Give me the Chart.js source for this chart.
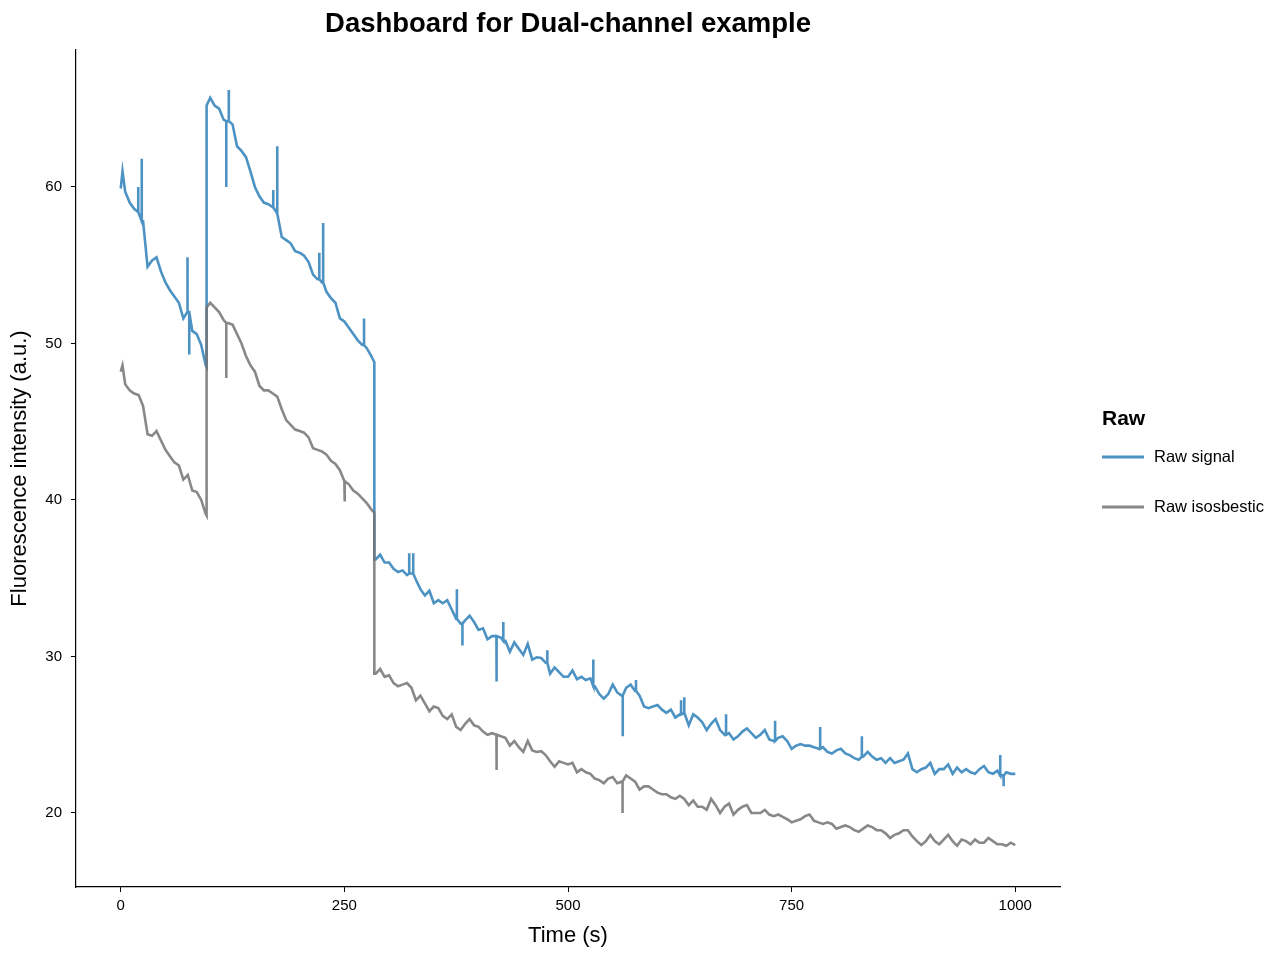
<!DOCTYPE html>
<html>
<head>
<meta charset="utf-8">
<script src="https://cdn.jsdelivr.net/npm/chart.js@4.4.1/dist/chart.umd.min.js"></script>
<style>
  html, body { margin: 0; padding: 0; background: #fff; }
  #chart { display: block; }
</style>
</head>
<body>
<canvas id="chart" width="1280" height="960"></canvas>
<script>
// samples every 5 s from 0 to 1000 s
const sampleStep = 5
const sampleCount = 201

const signalBase = [
  59.9, 59.7, 59.0, 58.6, 58.4, 57.8, 54.9, 55.3, 55.5, 54.6,
  53.9, 53.4, 53.0, 52.6, 51.6, 52.0, 50.8, 50.6, 49.9, 48.6,
  65.7, 65.2, 65.0, 64.3, 64.2, 64.0, 62.6, 62.3, 61.9, 61.0,
  60.0, 59.4, 59.0, 58.9, 58.7, 58.3, 56.8, 56.6, 56.4, 55.9,
  55.8, 55.6, 55.2, 54.4, 54.1, 53.9, 53.3, 52.9, 52.6, 51.6,
  51.4, 51.0, 50.6, 50.2, 49.9, 49.7, 49.2, 36.2, 36.5, 36.0,
  36.0, 35.6, 35.4, 35.5, 35.2, 35.3, 34.9, 34.3, 33.9, 34.2,
  33.4, 33.6, 33.4, 33.6, 33.0, 32.4, 32.1, 32.3, 32.6, 32.2,
  31.7, 31.8, 31.1, 31.3, 31.3, 31.2, 31.0, 30.3, 30.9, 30.5,
  30.1, 30.8, 29.8, 29.95, 29.9, 29.6, 28.9, 29.3, 29.0, 28.7,
  28.7, 29.1, 28.55, 28.7, 28.5, 28.6, 28.1, 27.6, 27.3, 27.6,
  28.2, 27.7, 27.5, 28.0, 28.2, 27.8, 27.5, 26.8, 26.7, 26.8,
  26.9, 26.6, 26.4, 26.6, 26.1, 26.3, 26.4, 25.6, 26.3, 26.1,
  25.8, 25.3, 25.7, 26.0, 25.3, 25.0, 25.1, 24.7, 24.9, 25.2,
  25.4, 25.1, 24.8, 25.0, 25.3, 24.7, 24.6, 24.8, 24.9, 24.6,
  24.1, 24.3, 24.4, 24.3, 24.3, 24.2, 24.1, 24.2, 23.9, 23.8,
  24.0, 24.1, 23.8, 23.7, 23.5, 23.4, 23.6, 23.9, 23.6, 23.4,
  23.5, 23.2, 23.5, 23.2, 23.3, 23.4, 23.8, 22.8, 22.6, 22.8,
  22.9, 23.2, 22.5, 22.8, 22.8, 23.1, 22.5, 22.9, 22.6, 22.8,
  22.6, 22.5, 22.8, 23.0, 22.6, 22.5, 22.7, 22.4, 22.6, 22.5,
  22.5
]

const isoBase = [
  48.2, 47.4, 47.0, 46.8, 46.7, 46.0, 44.2, 44.1, 44.4, 43.8,
  43.2, 42.8, 42.4, 42.2, 41.3, 41.6, 40.6, 40.5, 40.0, 39.1,
  52.6, 52.3, 52.0, 51.5, 51.3, 51.2, 50.6, 50.0, 49.2, 48.6,
  48.2, 47.3, 47.0, 47.0, 46.8, 46.6, 45.8, 45.1, 44.8, 44.5,
  44.4, 44.3, 44.0, 43.3, 43.2, 43.1, 42.9, 42.5, 42.3, 41.9,
  41.2, 41.0, 40.6, 40.4, 40.1, 39.8, 39.4, 28.9, 29.2, 28.7,
  28.8, 28.3, 28.1, 28.2, 28.3, 28.0, 27.2, 27.5, 27.0, 26.5,
  26.8, 26.7, 26.2, 26.0, 26.3, 25.5, 25.3, 25.7, 26.0, 25.6,
  25.5, 25.2, 25.0, 25.1, 25.0, 24.9, 24.8, 24.3, 24.6, 24.2,
  23.9, 24.6, 24.0, 23.9, 23.95, 23.7, 23.3, 22.95, 23.3, 23.2,
  23.1, 23.2, 22.6, 22.8, 22.6, 22.5, 22.2, 22.1, 21.9, 22.2,
  22.3, 21.9, 22.0, 22.4, 22.2, 22.0, 21.5, 21.7, 21.7, 21.5,
  21.3, 21.2, 21.2, 21.0, 20.9, 21.1, 20.9, 20.5, 20.8, 20.4,
  20.4, 20.2, 20.9, 20.5, 20.0, 20.4, 20.6, 19.9, 20.2, 20.4,
  20.5, 20.0, 20.0, 20.0, 20.2, 19.9, 19.8, 19.9, 19.75, 19.6,
  19.4, 19.5, 19.6, 19.8, 19.9, 19.5, 19.4, 19.3, 19.4, 19.3,
  19.0, 19.1, 19.2, 19.1, 18.9, 18.8, 19.0, 19.2, 19.1, 18.9,
  18.9, 18.7, 18.4, 18.6, 18.7, 18.9, 18.9, 18.5, 18.2, 17.95,
  18.2, 18.6, 18.2, 18.0, 18.3, 18.6, 18.2, 17.9, 18.3, 18.2,
  18.0, 18.3, 18.1, 18.1, 18.4, 18.2, 18.0, 18.0, 17.9, 18.1,
  17.95
]

// abrupt level changes (time, value before, value after)
const jumpTimes = [96, 283.5]
const signalJumps = [[48.5, 65.2], [48.8, 36.2]]
const isoJumps = [[39.0, 52.3], [39.2, 28.9]]

// short peaks and single-sample transients
const signalSpikeTimes = [2, 19.4, 23.5, 74.5, 76.6, 118, 120.8, 170.5, 175, 222, 226.3, 272,
  322.5, 327, 375.8, 382, 420.2, 427.7, 476.9, 528.3, 561.2, 576, 626.4, 630, 676.7,
  731.5, 781.9, 828.5, 983.2, 987]
const signalSpikeValues = [61.0, 60.0, 61.8, 55.5, 49.3, 60.0, 66.2, 59.8, 62.6, 55.8, 57.7, 51.6,
  36.6, 36.6, 34.3, 30.7, 28.4, 32.2, 30.4, 29.8, 24.9, 28.5, 27.2, 27.4, 26.3,
  25.9, 25.5, 24.9, 23.7, 21.7]
const isoSpikeTimes = [2, 118, 250.4, 420.2, 561]
const isoSpikeValues = [48.6, 47.8, 39.9, 22.75, 20.0]

const xTicks = [0, 250, 500, 750, 1000]
const yTicks = [20, 30, 40, 50, 60]

const signalColor = 'rgba(31,119,180,0.8)'
const isoColor = 'rgba(115,115,115,0.85)'

function buildTrace(base, jumps, spikeTimes, spikeValues) {
    let events = []
    for (let i = 0; i < sampleCount; i++) {
        events.push({t: i * sampleStep, pts: [base[i]]})
    }
    for (let j = 0; j < jumpTimes.length; j++) {
        events.push({t: jumpTimes[j], pts: jumps[j]})
    }
    for (let k = 0; k < spikeTimes.length; k++) {
        let t = spikeTimes[k]
        if (t < sampleStep) {
            // early peak, not a transient: just a point on the trace
            events.push({t: t, pts: [spikeValues[k]]})
            continue
        }
        let near = base[Math.round(t / sampleStep)]
        events.push({t: t, pts: [near, spikeValues[k], near]})
    }
    events.sort((a, b) => a.t - b.t)
    let out = []
    events.forEach(e => e.pts.forEach(v => out.push({x: e.t, y: v})))
    return out
}

const signalData = buildTrace(signalBase, signalJumps, signalSpikeTimes, signalSpikeValues)
const isoData = buildTrace(isoBase, isoJumps, isoSpikeTimes, isoSpikeValues)

const FONT = "'Liberation Sans', Arial, Helvetica, sans-serif"

const overlay = {
    id: 'overlay',
    afterDraw(chart) {
        const ctx = chart.ctx
        const area = chart.chartArea
        ctx.save()
        // title
        ctx.fillStyle = '#000'
        ctx.font = 'bold 27.5px ' + FONT
        ctx.textAlign = 'center'
        ctx.textBaseline = 'middle'
        ctx.fillText('Dashboard for Dual-channel example', (area.left + area.right) / 2, 24)
        // legend
        ctx.textAlign = 'left'
        ctx.font = 'bold 21px ' + FONT
        ctx.fillText('Raw', 1102, 419)
        const items = [['Raw signal', 'rgb(76,146,195)', 457], ['Raw isosbestic', 'rgb(136,136,136)', 507]]
        ctx.font = '16.5px ' + FONT
        items.forEach(it => {
            ctx.strokeStyle = it[1]
            ctx.lineWidth = 3
            ctx.beginPath()
            ctx.moveTo(1102, it[2])
            ctx.lineTo(1144, it[2])
            ctx.stroke()
            ctx.fillStyle = '#000'
            ctx.fillText(it[0], 1154, it[2])
        })
        ctx.restore()
    }
}

new Chart(document.getElementById('chart'), {
    type: 'line',
    data: {
        datasets: [
            {
                label: 'Raw signal',
                data: signalData,
                borderColor: signalColor,
                borderWidth: 2.6,
                pointRadius: 0,
                tension: 0,
                order: 1
            },
            {
                label: 'Raw isosbestic',
                data: isoData,
                borderColor: isoColor,
                borderWidth: 2.6,
                pointRadius: 0,
                tension: 0,
                order: 0
            }
        ]
    },
    options: {
        responsive: false,
        animation: false,
        events: [],
        layout: { padding: { left: 0, top: 50, right: 220, bottom: 0 } },
        plugins: {
            legend: { display: false },
            tooltip: { enabled: false }
        },
        scales: {
            x: {
                type: 'linear',
                min: -50,
                max: 1050,
                afterFit: s => { s.height = 73 },
                afterBuildTicks: s => { s.ticks = xTicks.map(v => ({value: v})) },
                grid: { display: true, drawOnChartArea: false, drawTicks: true, tickLength: 5, tickColor: '#000', tickWidth: 1 },
                border: { display: true, color: '#000', width: 1.2 },
                ticks: { color: '#000', font: { family: FONT, size: 15 }, padding: 5, maxRotation: 0, callback: v => String(v) },
                title: { display: true, text: 'Time (s)', color: '#000', font: { family: FONT, size: 22 }, padding: { top: 0, bottom: 11 } }
            },
            y: {
                type: 'linear',
                min: 15.27,
                max: 68.75,
                afterFit: s => { s.width = 76 },
                afterBuildTicks: s => { s.ticks = yTicks.map(v => ({value: v})) },
                grid: { display: true, drawOnChartArea: false, drawTicks: true, tickLength: 5, tickColor: '#000', tickWidth: 1 },
                border: { display: true, color: '#000', width: 1.2 },
                ticks: { color: '#000', font: { family: FONT, size: 15 }, padding: 9, callback: v => String(v) },
                title: { display: true, text: 'Fluorescence intensity (a.u.)', color: '#000', font: { family: FONT, size: 22 }, padding: { top: 7, bottom: 0 } }
            }
        }
    },
    plugins: [overlay]
})
</script>
</body>
</html>
